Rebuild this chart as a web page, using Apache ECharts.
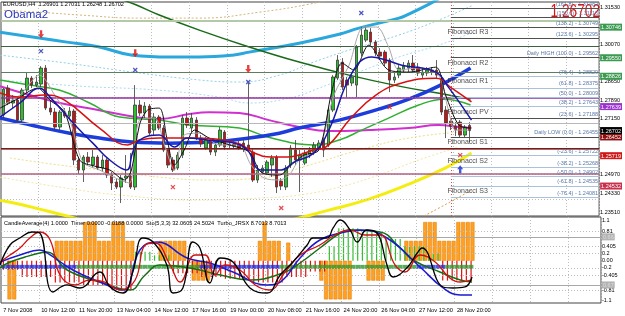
<!DOCTYPE html>
<html><head><meta charset="utf-8">
<script src="https://cdn.jsdelivr.net/npm/echarts@6/dist/echarts.min.js"></script>
<style>html,body{margin:0;padding:0;background:#fff;}#c{width:625px;height:316px;}</style>
</head><body><div id="c"></div>
<script>
// ---------- candles (EURUSD H4) ----------
const opens  = [1.27307,1.28363,1.27777,1.27894,1.27112,1.28285,1.28754,1.28480,1.28520,1.29145,
1.27581,1.27425,1.26838,1.27425,1.27268,1.27464,1.25548,1.25157,1.25665,1.25352,
1.25665,1.25235,1.25548,1.24962,1.24688,1.24492,1.24844,1.24922,1.24492,1.27699,
1.27386,1.27659,1.26721,1.27229,1.26799,1.25939,1.25548,1.25235,1.25743,1.27190,
1.26799,1.27112,1.26408,1.26017,1.26330,1.25861,1.26134,1.26642,1.26134,1.26174,
1.26174,1.26213,1.26134,1.25861,1.24766,1.25079,1.25041,1.25352,1.25665,1.24727,
1.24492,1.25352,1.25939,1.25548,1.25431,1.25743,1.25861,1.26017,1.26330,1.26134,
1.27503,1.28754,1.29380,1.28676,1.28559,1.28480,1.29732,1.30240,1.30553,1.30162,
1.29771,1.29771,1.29458,1.28676,1.28871,1.29067,1.29145,1.29341,1.29184,1.28871,
1.28950,1.29067,1.29067,1.28754,1.27503,1.27073,1.26877,1.27034,1.26525,1.26901];
const closes = [1.28324,1.27777,1.27894,1.27112,1.28285,1.28754,1.28480,1.28598,1.29145,1.27581,
1.27425,1.26838,1.27425,1.27268,1.27464,1.25548,1.25157,1.25665,1.25470,1.25665,
1.25235,1.25548,1.24962,1.24649,1.24492,1.24844,1.24922,1.24492,1.27699,1.27386,
1.27659,1.26603,1.27229,1.26799,1.25939,1.25352,1.25157,1.25743,1.27190,1.26916,
1.27190,1.26408,1.26174,1.26330,1.25861,1.26134,1.26721,1.26056,1.26174,1.26095,
1.26017,1.26017,1.25939,1.24766,1.25157,1.25235,1.25470,1.25626,1.24492,1.24531,
1.25235,1.26017,1.25548,1.25743,1.25821,1.25939,1.26134,1.26213,1.25939,1.27503,
1.28793,1.29458,1.28402,1.28480,1.28793,1.29966,1.30435,1.30631,1.30162,1.29732,
1.29614,1.29341,1.28676,1.28793,1.29145,1.29223,1.29341,1.29067,1.28950,1.28989,
1.29067,1.28989,1.28871,1.27425,1.26995,1.26877,1.26721,1.26525,1.26838,1.26702];
const lows   = [1.27190,1.27699,1.27581,1.27034,1.27034,1.28168,1.28363,1.28402,1.28402,1.27503,
1.27307,1.26721,1.26721,1.27190,1.27112,1.25352,1.25001,1.24688,1.25352,1.25235,
1.25157,1.25079,1.24844,1.24375,1.24414,1.23867,1.24649,1.24414,1.24375,1.27268,
1.27190,1.26525,1.26525,1.26721,1.25861,1.25235,1.25079,1.25157,1.25626,1.26799,
1.26642,1.26330,1.26056,1.25939,1.25743,1.25704,1.26056,1.25939,1.26017,1.26017,
1.25939,1.25861,1.25861,1.24688,1.24649,1.24962,1.24962,1.24884,1.24258,1.24375,
1.24375,1.25235,1.25352,1.24297,1.25352,1.25626,1.25743,1.25939,1.25665,1.26056,
1.27425,1.28676,1.28285,1.28011,1.28441,1.28011,1.29614,1.30162,1.30044,1.29614,
1.29458,1.29223,1.28207,1.28559,1.28754,1.28950,1.28989,1.28950,1.28832,1.28754,
1.28832,1.28871,1.28754,1.27307,1.26408,1.26721,1.26486,1.26447,1.26447,1.26248];
const highs  = [1.28363,1.28480,1.28089,1.28011,1.28363,1.28950,1.28832,1.28871,1.29223,1.29262,
1.27894,1.27581,1.27503,1.27581,1.27620,1.27542,1.25665,1.25743,1.25861,1.25939,
1.25743,1.25743,1.25626,1.25079,1.24844,1.24962,1.25743,1.25821,1.28480,1.27894,
1.27816,1.27738,1.27386,1.27307,1.26916,1.26017,1.25665,1.25861,1.27307,1.27425,
1.27386,1.27229,1.26525,1.26447,1.26408,1.26252,1.26838,1.26721,1.26252,1.26291,
1.26291,1.26330,1.28559,1.26017,1.25352,1.25352,1.25548,1.25743,1.25743,1.24844,
1.25352,1.26134,1.26330,1.25939,1.25939,1.26056,1.26252,1.26330,1.26447,1.27581,
1.28871,1.29654,1.29536,1.28793,1.28911,1.30044,1.30748,1.30748,1.30709,1.30240,
1.29927,1.29849,1.29536,1.28989,1.29262,1.29380,1.29458,1.29654,1.29341,1.29145,
1.29184,1.29184,1.29458,1.28871,1.27659,1.27190,1.27034,1.27112,1.26916,1.27031];
const emptySlots = 27;

// time axis labels (every 8 bars)
const timeLabels = ['7 Nov 2008','10 Nov 12:00','11 Nov 20:00','13 Nov 04:00','14 Nov 12:00','17 Nov 16:00',
  '19 Nov 00:00','20 Nov 08:00','21 Nov 16:00','24 Nov 20:00','26 Nov 04:00','27 Nov 12:00','28 Nov 20:00'];

// ---------- main-chart indicator lines: [bar index, price] ----------
const cyanMA = [[-0.7,1.3055],[13.5,1.3016],[20.4,1.2997],[27.4,1.2965],[35.3,1.2958],[41.6,1.2958],[48.6,1.2965],[52.2,1.2977],[62.8,1.3012],[71.3,1.3047],[75.5,1.3071],[84.0,1.3110],[86.1,1.3126],[90.3,1.3164],[93.5,1.3196]];
const darkGreenMA = [[24.6,1.3186],[28.0,1.3163],[33.1,1.3122],[41.6,1.3063],[52.2,1.2997],[62.8,1.2938],[73.4,1.2887],[84.0,1.2844],[94.5,1.2809],[99.2,1.2793]];
const blueMA = [[-0.7,1.2719],[6.7,1.2688],[14.1,1.2660],[20.4,1.2641],[27.4,1.2625],[35.3,1.2621],[43.7,1.2625],[52.2,1.2641],[58.6,1.2660],[62.8,1.2680],[71.3,1.2711],[79.7,1.2754],[86.1,1.2793],[92.4,1.2844],[99.2,1.2915]];
const yellowMA = [[-0.7,1.2398],[3.5,1.2382],[7.7,1.2363],[12.0,1.2343],[24.7,1.2289],[41.6,1.2273],[58.6,1.2312],[69.1,1.2359],[77.6,1.2402],[86.1,1.2461],[93.9,1.2524],[99.4,1.2582]];
const tanBand = [[-0.7,1.3141],[7.7,1.3133],[16.2,1.3122],[28.9,1.3110],[41.6,1.3110],[54.3,1.3133],[67.0,1.3172],[71.3,1.3196]];
const tanBandLow = [[89.3,1.2336],[94.5,1.2387],[99.4,1.2437]];
const cyanBandA = [[-0.7,1.2965],[13.5,1.2934],[27.4,1.2899],[41.6,1.2868],[50.1,1.2860],[58.6,1.2887],[65.9,1.2938],[73.4,1.2985],[84.0,1.3044],[92.4,1.3102],[99.8,1.3161]];
const cyanBandB = [[-0.7,1.2868],[16.2,1.2844],[33.1,1.2828],[45.9,1.2801],[52.2,1.2778],[60.7,1.2797],[67.0,1.2836],[75.5,1.2899],[84.0,1.2958],[92.4,1.3004],[99.8,1.3055]];
const yellowBandC = [[1.4,1.2563],[12.0,1.2535],[24.7,1.2508],[33.1,1.2488],[43.7,1.2477],[54.3,1.2484],[64.9,1.2535],[75.5,1.2594],[86.1,1.2641],[96.7,1.2664]];
const yellowBandD = [[-0.7,1.2488],[12.0,1.2449],[24.7,1.2418],[41.6,1.2398],[54.3,1.2406],[62.8,1.2418],[71.3,1.2449],[79.7,1.2496],[88.2,1.2555],[96.7,1.2606]];
const magentaMA = [[-0.7,1.2844],[5.6,1.2809],[12.0,1.2778],[20.4,1.2750],[26.8,1.2727],[33.1,1.2715],[39.5,1.2735],[43.7,1.2742],[50.1,1.2739],[56.4,1.2711],[62.8,1.2684],[69.1,1.2668],[77.6,1.2672],[86.1,1.2680],[92.4,1.2692],[96.7,1.2684],[99.4,1.2680]];
const greenMA = [[-0.7,1.2868],[5.6,1.2848],[12.0,1.2828],[18.3,1.2778],[24.7,1.2723],[33.1,1.2711],[39.5,1.2692],[50.1,1.2680],[56.9,1.2641],[65.9,1.2614],[71.3,1.2633],[76.1,1.2672],[81.8,1.2719],[88.2,1.2770],[93.5,1.2793],[99.2,1.2770]];
const redMA = [[-0.7,1.2817],[3.5,1.2801],[8.8,1.2809],[13.0,1.2789],[20.4,1.2680],[26.4,1.2614],[28.9,1.2633],[33.1,1.2641],[39.1,1.2641],[49.7,1.2621],[53.3,1.2582],[56.9,1.2567],[60.3,1.2567],[65.9,1.2594],[68.5,1.2606],[74.0,1.2723],[79.1,1.2809],[84.6,1.2856],[91.8,1.2875],[95.2,1.2836],[99.4,1.2782]];
const navyMA = [[-0.7,1.2723],[3.5,1.2778],[7.7,1.2836],[9.9,1.2801],[15.6,1.2684],[19.0,1.2621],[22.6,1.2555],[26.2,1.2516],[27.4,1.2582],[28.9,1.2633],[33.1,1.2653],[36.3,1.2606],[39.1,1.2641],[43.3,1.2633],[49.0,1.2621],[51.8,1.2594],[54.7,1.2516],[59.0,1.2516],[61.7,1.2547],[65.9,1.2582],[69.1,1.2672],[74.0,1.2895],[78.2,1.2958],[81.2,1.2946],[84.6,1.2926],[91.8,1.2899],[94.5,1.2840],[99.4,1.2711]];
const grayMA = [[-0.1,1.2770],[3.5,1.2809],[7.7,1.2887],[10.9,1.2809],[14.1,1.2711],[16.9,1.2547],[20.4,1.2516],[24.7,1.2477],[26.8,1.2465],[28.9,1.2711],[32.1,1.2719],[34.2,1.2614],[36.3,1.2516],[38.4,1.2653],[41.6,1.2660],[45.9,1.2614],[50.1,1.2614],[52.6,1.2535],[55.4,1.2484],[58.6,1.2477],[60.7,1.2496],[62.8,1.2555],[67.0,1.2602],[70.2,1.2809],[73.4,1.2926],[76.5,1.3075],[79.3,1.3075],[81.8,1.2997],[84.0,1.2907],[88.2,1.2915],[92.4,1.2887],[94.5,1.2750],[96.0,1.2672],[98.8,1.2672]];
const blackMA = [[-0.7,1.2758],[2.5,1.2789],[7.3,1.2836],[9.9,1.2789],[13.0,1.2742],[16.2,1.2555],[19.4,1.2531],[22.6,1.2516],[25.7,1.2477],[27.2,1.2516],[28.9,1.2692],[30.6,1.2750],[33.1,1.2758],[34.8,1.2633],[36.3,1.2535],[38.4,1.2594],[40.6,1.2672],[43.7,1.2641],[48.0,1.2614],[52.2,1.2586],[54.7,1.2508],[58.6,1.2496],[61.1,1.2535],[63.8,1.2574],[67.0,1.2594],[69.8,1.2828],[71.9,1.2934],[74.4,1.2907],[77.6,1.3004],[81.8,1.2907],[86.1,1.2899],[91.8,1.2918],[93.9,1.2809],[96.7,1.2692],[99.2,1.2680]];

// signal marks [bar index, price]
const downArrows = [[8,1.3047],[28,1.2973],[52,1.2911]];
const blueCrosses = [[8,1.2981],[28,1.2907],[52,1.2860],[76,1.3130]];
const redCrosses = [[36,1.2449],[59,1.2367],[82,1.2762],[97,1.2574]];
const upArrows = [[97,1.2519]];

// price scale levels (right axis)
const priceLevels = [1.31530,1.30801,1.30072,1.29343,1.28614,1.27885,1.27156,1.26427,1.25698,1.24969,1.24240,1.23511];
const priceLevelText = ['1.31530','','1.30070','','1.28650','1.27890','1.27150','','','1.24970','1.24330','1.23510'];
// Fibonacci pivots
const pivotNames = ['Fibonacci R3','Fibonacci R2','Fibonacci R1','Fibonacci PV','Fibonacci S1','Fibonacci S2','Fibonacci S3'];
const pivotValues = [1.30746,1.29550,1.28826,1.27639,1.26452,1.25719,1.24532];
const bidPrice = 1.26702;
// Fibonacci retracement of previous day
const fibValues = [1.31482,1.31116,1.30749,1.30295,1.29562,1.28829,1.28375,1.28009,1.27643,1.27188,1.26455,1.25722,1.25268,1.24902,1.24535,1.24081,1.23348];
const fibText = ['(161.8) - 1.31482','(150.0) - 1.31116','(138.2) - 1.30749','(123.6) - 1.30295','Daily HIGH (100.0) - 1.29562','(76.4) - 1.28829','(61.8) - 1.28375','(50.0) - 1.28009','(38.2) - 1.27643','(23.6) - 1.27188','Daily LOW (0.0) - 1.26455','(-23.6) - 1.25722','(-38.2) - 1.25268','(-50.0) - 1.24902','(-61.8) - 1.24535','(-76.4) - 1.24081','(-100.0) - 1.23348'];
const fibStartBar = 95;

// ---------- lower panel ----------
const timerBars = [0,-1.07,-1.07,0,0,0,0,0,0,0,
0,0.55,0.55,0.55,0.55,0.55,0.55,1.07,1.07,1.07,
0.55,0.55,0.55,1.07,1.07,1.07,0.55,0.55,0,0,
0,0,0,0.55,0.55,0.55,0.55,0.55,0.55,0,
-0.55,-0.55,-0.55,-0.55,0,0,0,0,0,0,
0,0,0,0,0.55,1.07,0.55,0.55,0.55,0,
0.5,0,0,0,0,0,0,-0.55,-1.07,-1.07,
-1.07,-1.07,-1.07,-1.07,0,0,0,-0.55,-0.55,-0.55,
-0.55,0,0,0,0,0.55,0.55,0.55,0.55,1.07,
1.07,1.07,0.55,0.55,0.55,0.55,1.07,1.07,1.07,1.07];
const jrsxBars = [-0.25,-0.25,-0.25,-0.25,-0.45,-0.45,-0.45,-0.45,-0.45,-0.45,
-0.45,-0.6,-0.6,-0.6,-0.6,-0.6,-0.6,-0.7,-0.7,-0.7,
-0.7,-0.7,-0.7,-0.8,-0.8,-0.8,-0.8,-0.8,0.25,0.25,
0.25,0.25,0.15,0.15,0.15,0.15,-0.35,-0.35,-0.35,-0.35,
-0.35,-0.35,-0.45,-0.45,-0.45,-0.45,-0.45,-0.5,-0.5,-0.5,
-0.5,-0.5,-0.5,-0.6,-0.6,-0.6,-0.6,-0.6,-0.6,-0.6,
-0.45,-0.45,-0.45,-0.45,-0.45,-0.3,-0.3,-0.3,-0.3,0.4,
0.4,0.9,0.9,0.9,0.9,0.9,0.8,0.8,0.8,0.8,
0.8,0.6,0.6,0.6,0.6,0.4,0.4,0.4,0.4,0.4,
0.2,0.2,0.2,-0.55,-0.55,-0.55,-0.55,-0.55,-0.55,-0.55];
const trendState = 'bbbbbbbbbbbbbbbbggggggggggggggggggggggggggbbbbbbbbbbbbbbbbbgggggggggggggggggggggggggggggbbbbbbgggggg';
const trendLevel = -0.17;
const oscBlack = [[-0.7,-0.118],[1.4,0.435],[3.5,0.629],[6.1,0.795],[7.7,0.767],[10.5,-0.865],[13.5,-0.671],[16.2,-0.755],[20.4,-0.312],[22.6,-0.727],[25.3,-0.893],[27.4,-0.312],[29.5,0.629],[31.7,0.518],[34.6,-0.118],[35.9,-0.893],[38.0,-0.755],[40.1,0.518],[41.6,0.352],[43.7,-0.616],[45.9,0.075],[48.6,-0.035],[52.2,-0.755],[55.8,-0.893],[58.6,-0.395],[61.3,-0.035],[64.3,0.435],[65.5,0.629],[68.5,0.629],[69.8,0.906],[71.3,1.127],[73.4,0.850],[74.9,0.518],[76.9,0.850],[79.1,0.767],[81.2,-0.118],[82.5,-0.450],[85.4,-0.201],[87.6,0.214],[88.6,0.352],[93.1,-0.727],[95.2,-0.755],[97.7,-0.727],[99.2,-0.450]];
const oscRed = [[-0.7,-0.035],[1.4,0.159],[3.5,0.352],[5.6,0.629],[7.7,0.795],[9.9,0.574],[12.0,-0.395],[15.2,-0.671],[18.3,-0.533],[21.5,-0.589],[24.7,-0.810],[27.9,-0.533],[30.0,0.435],[32.1,0.491],[35.3,-0.118],[37.4,-0.589],[40.6,0.159],[42.7,0.159],[44.8,-0.395],[46.9,-0.118],[50.1,-0.256],[53.3,-0.671],[56.4,-0.810],[59.6,-0.312],[62.8,0.159],[67.0,0.435],[70.2,0.712],[73.4,0.850],[76.5,0.712],[79.7,0.712],[82.9,-0.118],[85.0,-0.312],[88.2,0.159],[91.4,-0.035],[94.5,-0.477],[96.7,-0.589],[99.2,-0.533]];
const oscGreen = [[-0.7,-0.201],[1.4,-0.035],[4.6,0.103],[7.7,0.214],[9.2,0.241],[13.5,-0.256],[20.4,-0.589],[26.8,-0.810],[30.0,-0.395],[33.1,-0.118],[39.5,-0.201],[45.9,-0.395],[52.2,-0.533],[59.2,-0.339],[62.8,-0.063],[67.0,0.352],[71.3,0.767],[73.4,0.850],[79.7,0.795],[84.0,0.352],[86.7,0.020],[92.4,-0.312],[96.7,-0.533],[99.2,-0.589]];
const oscBlue = [[-0.7,-0.035],[3.5,0.159],[7.7,0.297],[9.9,0.159],[14.7,-0.256],[20.4,-0.589],[25.3,-0.810],[28.9,0.297],[32.5,0.518],[38.9,0.075],[43.7,-0.063],[48.6,-0.312],[55.8,-0.671],[58.6,-0.589],[62.8,0.075],[67.0,0.574],[72.3,0.795],[75.5,0.850],[81.2,0.629],[88.2,-0.173],[93.1,-0.755],[96.7,-0.948],[99.2,-0.948]];
const lowerLevels = [1.1,0.81,0.405,0.2,0,-0.2,-0.405,-0.81,-1.1];
const lowerLevelText = ['1.1','0.81','0.405','0.2','0.00','-0.2','-0.405','-0.81','-1.1'];
const lowerBands = [0.66,-0.67];

// ---------- texts ----------
const symbolLine = 'EURUSD,H4  1.26901 1.27031 1.26248 1.26702';
const expertName = 'Obama2';
const lowerTitle = 'CandleAverage(4) 1.0000  Timer 0.0000 -0.0188 0.0000  Sto(5,3,3) 32.0605 24.5024  Turbo_JRSX 8.7013 8.7013';

// =================== build ===================
const chart = echarts.init(document.getElementById('c'), null, {renderer:'canvas'});
const FONT = "'Liberation Sans', Arial, sans-serif";
const NB = opens.length, N = NB + emptySlots;
const cats = Array.from({length:N}, (_, i) => String(i));
const candleData = opens.map((o, i) => [o, closes[i], lows[i], highs[i]]);
const GRIDC = '#bdbdbd';
const FS = 5.5;
const PMIN = 1.2336, PMAX = 1.3173, LMIN = -1.17, LMAX = 1.21;

function ln(data, color, width, type, z, smooth) {
  return {type:'line', xAxisIndex:2, yAxisIndex:0, data, smooth: smooth===undefined?0.45:smooth, symbol:'none',
    lineStyle:{color, width, type: type||'solid'}, z: z||3, silent:true, clip:true};
}
function lnLow(data, color, width) {
  return {type:'line', xAxisIndex:3, yAxisIndex:1, data, smooth:0.45, symbol:'none',
    lineStyle:{color, width}, z:6, silent:true};
}
const near = (a, b) => Math.abs(a - b) < 1e-7;
function rightAxis(grid, min, max, vals, formatter, rich) {
  return {type:'value', gridIndex:grid, min, max, position:'right', show:true,
    axisLine:{show:false}, axisTick:{show:false}, splitLine:{show:false},
    axisLabel:{show:true, customValues:vals, formatter, rich, margin:1, fontSize:FS, fontFamily:FONT, color:'#000', hideOverlap:false}};
}

// main horizontal lines (no labels)
const mainMarks = [];
priceLevels.forEach((v) => mainMarks.push({yAxis:v, lineStyle:{color:GRIDC, type:[1,2], width:1}}));
const pivotLine = ['#b4c9a8','#3c6040','#5d7d5d','#9030a0','#8a3a3a','#7a1a1a','#b06080'];
const pivotTag  = ['#3a9a50','#3a9a50','#3a9a50','#9933cc','#8b1010','#d01818','#c8304c'];
const pivotW    = [2,1.2,1.2,1.5,1.5,1.2,1.5];
pivotValues.forEach((v, i) => mainMarks.push({yAxis:v, lineStyle:{color:pivotLine[i], type:'solid', width:pivotW[i]}}));
mainMarks.push({yAxis:bidPrice, lineStyle:{color:'#b8b8b8', type:'solid', width:1}});
mainMarks.push({xAxis:fibStartBar, lineStyle:{color:'#d05050', type:[1,2], width:1}});
const fibLineColor = (i) => (i <= 4 || i === 9 || i === 10) ? '#505050' : '#a9c1da';
fibValues.forEach((v, i) => mainMarks.push([
  {coord:[fibStartBar, v], lineStyle:{color:fibLineColor(i), width:1, type:'solid'},
   label:{show:true, position:'insideEndTop', distance:1, formatter:fibText[i], color:'#5a78a8', fontSize:FS, fontFamily:FONT}},
  {coord:[N-0.5, v]}]));

const pivotLabelData = pivotValues.map((v, i) => ({value:[fibStartBar-0.7, v], name:pivotNames[i]}));

const lowerMarks = lowerLevels.filter(v => Math.abs(v) < 1 && v !== 0).map(v => ({yAxis:v, lineStyle:{color:GRIDC, type:[1,2], width:1}}))
  .concat(lowerBands.map(v => ({yAxis:v, lineStyle:{color:'#a8a8a8', type:'solid', width:1}})));

// rich styles for tags
const tagRich = {};
pivotTag.forEach((c, i) => { tagRich['p' + i] = {backgroundColor:c, color:'#fff', padding:[1,1,0,1], fontSize:FS, fontFamily:FONT}; });
tagRich.bid = {backgroundColor:'#000', color:'#fff', padding:[1,1,0,1], fontSize:FS, fontFamily:FONT};
tagRich.gb = {backgroundColor:'#b4b4b4', color:'#dcdcdc', padding:[1,1,0,1], fontSize:FS, fontFamily:FONT};

const plainVals = priceLevels.filter((v, i) => priceLevelText[i]);

const option = {
  animation:false,
  backgroundColor:'#ffffff',
  textStyle:{fontFamily:FONT},
  title:[
    {text:symbolLine, left:3, top:1, padding:0, textStyle:{fontSize:5.6, fontWeight:'normal', color:'#000', fontFamily:FONT}},
    {text:expertName, left:4, top:9, padding:0, textStyle:{fontSize:11.5, fontWeight:'normal', color:'#2a35b8', fontFamily:FONT}},
    {text:lowerTitle, left:4, top:220, padding:0, textStyle:{fontSize:5.6, fontWeight:'normal', color:'#000', fontFamily:FONT}}
  ],
  graphic:[
    {type:'text', right:25, top:3, scaleX:0.76, scaleY:1, style:{text:bidPrice.toFixed(5), fill:'#e01010', font:'normal 18px ' + FONT}}
  ],
  grid:[
    {left:1, top:2, width:600, height:214, show:true, borderColor:'#444', borderWidth:1, backgroundColor:'transparent'},
    {left:1, top:217, width:600, height:86, show:true, borderColor:'#444', borderWidth:1, backgroundColor:'transparent'}
  ],
  xAxis:[
    {type:'category', gridIndex:0, data:cats, boundaryGap:true, axisLine:{show:false}, axisTick:{show:false}, axisLabel:{show:false},
     splitLine:{show:true, interval:(i)=> i>0 && i%8===0, lineStyle:{color:GRIDC, type:[1,2], width:1}}},
    {type:'category', gridIndex:1, data:cats, boundaryGap:true, axisLine:{show:false}, axisTick:{show:false},
     axisLabel:{show:true, interval:(i)=> i%8===0 && i/8 < timeLabels.length, formatter:(v, i)=> timeLabels[i/8] || '', align:'left', margin:4, fontSize:5.7, color:'#000', fontFamily:FONT},
     splitLine:{show:true, interval:(i)=> i>0 && i%8===0, lineStyle:{color:GRIDC, type:[1,2], width:1}}},
    {type:'value', gridIndex:0, min:-0.5, max:N-0.5, show:false},
    {type:'value', gridIndex:1, min:-0.5, max:N-0.5, show:false}
  ],
  yAxis:[
    rightAxis(0, PMIN, PMAX, plainVals, (v) => { const i = priceLevels.findIndex(p => near(p, v)); return i >= 0 ? priceLevelText[i] : ''; }),
    rightAxis(1, LMIN, LMAX, lowerLevels, (v) => { const i = lowerLevels.findIndex(p => near(p, v)); return i >= 0 ? lowerLevelText[i] : ''; }),
    rightAxis(0, PMIN, PMAX, pivotValues, (v) => { const i = pivotValues.findIndex(p => near(p, v)); return '{p' + i + '|' + v.toFixed(5) + '}'; }, tagRich),
    rightAxis(0, PMIN, PMAX, [bidPrice], (v) => '{bid|' + v.toFixed(5) + '}', tagRich),
    rightAxis(1, LMIN, LMAX, lowerBands, (v) => '{gb|' + Math.abs(v).toFixed(2) + '}', tagRich)
  ],
  series:[
    {type:'line', xAxisIndex:2, yAxisIndex:0, data:[], silent:true,
     markLine:{silent:true, symbol:['none','none'], animation:false, label:{show:false}, data:mainMarks}, z:1},
    ln(tanBand, '#d2b67a', 1, [2,2], 2),
    ln(tanBandLow, '#d9a050', 1, [2,2], 2),
    ln(cyanBandA, '#8fd0ea', 1, [2,2], 2),
    ln(cyanBandB, '#a6dcef', 1, [2,2], 2),
    ln(yellowBandC, '#ece08a', 1, [2,2], 2),
    ln(yellowBandD, '#efe6a0', 1, [2,2], 2),
    ln(cyanMA, '#2aa7dc', 3, 'solid', 3),
    ln(yellowMA, '#f4ee10', 3, 'solid', 3),
    ln(darkGreenMA, '#1a6a1a', 1.5, 'solid', 3),
    ln(magentaMA, '#d030d0', 2, 'solid', 3),
    ln(greenMA, '#30b030', 1.5, 'solid', 3),
    ln(blueMA, '#1c3ddc', 3.5, 'solid', 3),
    {type:'candlestick', xAxisIndex:0, yAxisIndex:0, data:candleData, barWidth:3, z:4, silent:true,
     itemStyle:{color:'#2cc02c', color0:'#d01010', borderColor:'#3a3a3a', borderColor0:'#3a3a3a', borderWidth:0.8}},
    ln(grayMA, '#a8a8a8', 1, 'solid', 5, 0.3),
    ln(blackMA, '#111111', 1, 'solid', 5, 0.3),
    ln(redMA, '#d81010', 1.5, 'solid', 5),
    ln(navyMA, '#1818a8', 1.5, 'solid', 5),
    {type:'scatter', xAxisIndex:2, yAxisIndex:0, data:downArrows, symbol:'path://M3,0L7,0L7,6L10,6L5,12L0,6L3,6Z', symbolSize:[6,8], itemStyle:{color:'#e01010'}, z:7, silent:true},
    {type:'scatter', xAxisIndex:2, yAxisIndex:0, data:upArrows, symbol:'path://M5,0L10,6L7,6L7,12L3,12L3,6L0,6Z', symbolSize:[6,8], itemStyle:{color:'#1030d0'}, z:7, silent:true},
    {type:'scatter', xAxisIndex:2, yAxisIndex:0, data:blueCrosses, symbol:'path://M0,0L10,10M10,0L0,10', symbolSize:4, itemStyle:{color:'none', borderColor:'#2030b0', borderWidth:1.3}, z:7, silent:true},
    {type:'scatter', xAxisIndex:2, yAxisIndex:0, data:redCrosses, symbol:'path://M0,0L10,10M10,0L0,10', symbolSize:4, itemStyle:{color:'none', borderColor:'#e02020', borderWidth:1.3}, z:7, silent:true},
    {type:'scatter', xAxisIndex:2, yAxisIndex:0, data:pivotLabelData, symbolSize:0, silent:true, z:8,
     label:{show:true, position:'right', distance:0, offset:[0,5], formatter:(p)=>p.name, color:'#222', fontSize:7, fontFamily:FONT}},
    // lower panel
    {type:'line', xAxisIndex:3, yAxisIndex:1, data:[], silent:true,
     markLine:{silent:true, symbol:['none','none'], animation:false, label:{show:false}, data:lowerMarks}, z:1},
    {type:'bar', xAxisIndex:1, yAxisIndex:1, data:timerBars.map(v => v === 0 ? null : v), barWidth:4, barGap:'-100%', silent:true, z:2,
     itemStyle:{color:'#ffa020', borderColor:'#e07a00', borderWidth:0.5}},
    {type:'bar', xAxisIndex:1, yAxisIndex:1, barWidth:1.2, barGap:'-100%', silent:true, z:3,
     data:jrsxBars.map(v => ({value:v, itemStyle:{color: v >= 0 ? '#30c030' : '#e01010'}}))},
    {type:'scatter', xAxisIndex:1, yAxisIndex:1, symbol:'rect', symbolSize:[4.6,4], silent:true, z:4,
     data:trendState.split('').map((s, i) => ({value:[i, trendLevel], itemStyle:{color: s === 'b' ? '#1a30e0' : '#2e9a2e'}}))},
    lnLow(oscGreen, '#157015', 1.5),
    lnLow(oscBlue, '#1a1ad0', 1.5),
    lnLow(oscRed, '#d01010', 1.3),
    lnLow(oscBlack, '#000000', 1.3)
  ]
};
chart.setOption(option);
</script>
</body></html>
